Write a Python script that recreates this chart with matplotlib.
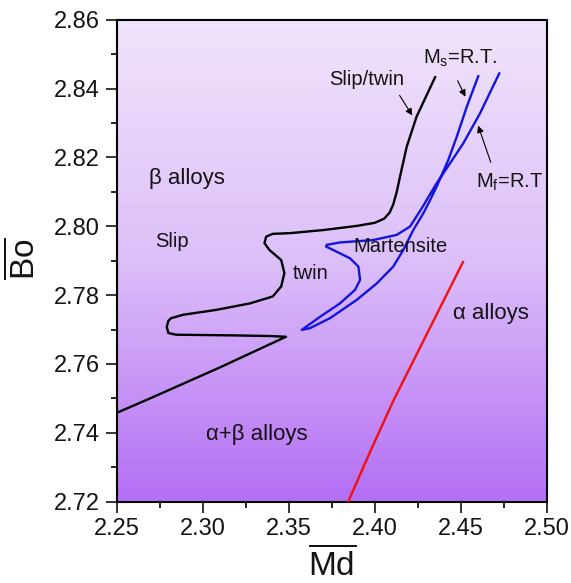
"""Bo-Md phase map with slip / twin / martensite boundaries."""

import matplotlib

matplotlib.use("Agg")
import matplotlib.pyplot as plt
import numpy as np
from matplotlib.colors import LinearSegmentedColormap
from matplotlib.ticker import AutoMinorLocator

# slip / twin boundary (black), traced from the left edge up to the top end
black_md = [2.2500, 2.2694, 2.3100, 2.3484, 2.3400, 2.3178, 2.2845, 2.2800,
            2.2791, 2.2800, 2.2816, 2.2887, 2.3078, 2.3275, 2.3407, 2.3456,
            2.3475, 2.3456, 2.3388, 2.3359, 2.3369, 2.3407, 2.3508, 2.3701,
            2.3895, 2.4000, 2.4055, 2.4087, 2.4108, 2.4128, 2.4147, 2.4186,
            2.4243, 2.4351]
black_bo = [2.7458, 2.7500, 2.7590, 2.7679, 2.7681, 2.7683, 2.7685, 2.7690,
            2.7708, 2.7725, 2.7733, 2.7743, 2.7757, 2.7776, 2.7796, 2.7825,
            2.7864, 2.7902, 2.7931, 2.7951, 2.7970, 2.7978, 2.7980, 2.7989,
            2.8001, 2.8010, 2.8022, 2.8040, 2.8064, 2.8100, 2.8144, 2.8231,
            2.8318, 2.8433]

# martensite boundary (blue): Ms=R.T. down to the lower tip, loop, Mf=R.T. back up
blue_md = [2.4602, 2.4535, 2.4477, 2.4428, 2.4360, 2.4322, 2.4283, 2.4224,
           2.4166, 2.4108, 2.4012, 2.3895, 2.3740, 2.3624, 2.3576, 2.3682,
           2.3798, 2.3885, 2.3915, 2.3905, 2.3856, 2.3759, 2.3717, 2.3721,
           2.3798, 2.3992, 2.4128, 2.4205, 2.4273, 2.4360, 2.4438, 2.4515,
           2.4612, 2.4724]
blue_bo = [2.8436, 2.8347, 2.8260, 2.8193, 2.8115, 2.8076, 2.8038, 2.7989,
           2.7931, 2.7883, 2.7834, 2.7786, 2.7733, 2.7704, 2.7699, 2.7737,
           2.7776, 2.7815, 2.7844, 2.7883, 2.7907, 2.7931, 2.7941, 2.7946,
           2.7953, 2.7960, 2.7975, 2.7999, 2.8052, 2.8125, 2.8183, 2.8241,
           2.8328, 2.8444]

# alpha / alpha+beta boundary (red)
red_md = [2.3846, 2.3960, 2.4105, 2.4513]
red_bo = [2.7200, 2.7330, 2.7490, 2.7896]

x_ticks = [2.25, 2.30, 2.35, 2.40, 2.45, 2.50]
y_ticks = [2.72, 2.74, 2.76, 2.78, 2.80, 2.82, 2.84, 2.86]

region_labels = ["\u03b2 alloys", "\u03b1 alloys", "\u03b1+\u03b2 alloys"]
region_md = [2.2909, 2.4676, 2.3313]
region_bo = [2.8140, 2.7747, 2.7396]

mode_labels = ["Slip", "twin", "Martensite", "Slip/twin"]
mode_md = [2.2824, 2.3628, 2.4151, 2.3952]
mode_bo = [2.7956, 2.7864, 2.7942, 2.8425]

TEXT = "#141414"

plt.rcParams["font.family"] = ["Liberation Sans", "DejaVu Sans"]
plt.rcParams["mathtext.fontset"] = "custom"
plt.rcParams["mathtext.rm"] = "Liberation Sans"
plt.rcParams["mathtext.it"] = "Liberation Sans"

fig = plt.figure(figsize=(5.71, 5.83), dpi=100)
ax = fig.add_axes([0.2044, 0.1395, 0.7531, 0.8267])

# purple background, light at the top and deeper towards the bottom
background = LinearSegmentedColormap.from_list(
    "lavender", ["#f1e4fb", "#dcbff9", "#b46ef4"]
)
ax.imshow(
    np.linspace(0, 1, 256)[:, None],
    cmap=background,
    extent=(x_ticks[0], x_ticks[-1], y_ticks[0], y_ticks[-1]),
    origin="upper",
    aspect="auto",
    zorder=0,
)

ax.plot(black_md, black_bo, color="black", lw=1.7, zorder=3)
ax.plot(blue_md, blue_bo, color="#1414e0", lw=1.7, zorder=3)
ax.plot(red_md, red_bo, color="#f01010", lw=1.7, zorder=3)

for label, md, bo in zip(region_labels, region_md, region_bo, strict=True):
    ax.text(md, bo, label, ha="center", va="center", fontsize=16, color=TEXT)
for label, md, bo in zip(mode_labels, mode_md, mode_bo, strict=True):
    ax.text(md, bo, label, ha="center", va="center", fontsize=14.5, color=TEXT)

ax.text(2.4496, 2.8488, r"M$_\mathregular{s}$=R.T.", ha="center",
        va="center", fontsize=14.5, color=TEXT)
ax.text(2.4782, 2.8129, r"M$_\mathregular{f}$=R.T", ha="center",
        va="center", fontsize=14.5, color=TEXT)

arrow = dict(arrowstyle="-|>", color="black", lw=0.8, mutation_scale=10)
ax.annotate("", xy=(2.4227, 2.8315), xytext=(2.4136, 2.8387), arrowprops=arrow)
ax.annotate("", xy=(2.4534, 2.8369), xytext=(2.4475, 2.8430), arrowprops=arrow)
ax.annotate("", xy=(2.4596, 2.8300), xytext=(2.4680, 2.8178), arrowprops=arrow)

ax.set_xlim(x_ticks[0], x_ticks[-1])
ax.set_ylim(y_ticks[0], y_ticks[-1])
ax.set_xticks(x_ticks, [f"{v:.2f}" for v in x_ticks])
ax.set_yticks(y_ticks, [f"{v:.2f}" for v in y_ticks])
ax.xaxis.set_minor_locator(AutoMinorLocator(2))
ax.yaxis.set_minor_locator(AutoMinorLocator(2))
ax.tick_params(which="major", direction="out", length=8, width=1.2,
               labelsize=17, colors=TEXT, pad=4)
ax.tick_params(which="minor", direction="out", length=4, width=1.2)
for spine in ax.spines.values():
    spine.set_linewidth(1.5)
    spine.set_color("black")

fig.text(0.581, 0.032, r"$\overline{\mathrm{Md}}$", ha="center", va="center",
         fontsize=24, color=TEXT)
fig.text(0.042, 0.557, r"$\overline{\mathrm{Bo}}$", ha="center", va="center",
         rotation=90, fontsize=24, color=TEXT)

fig.savefig("out.png", dpi=100)
